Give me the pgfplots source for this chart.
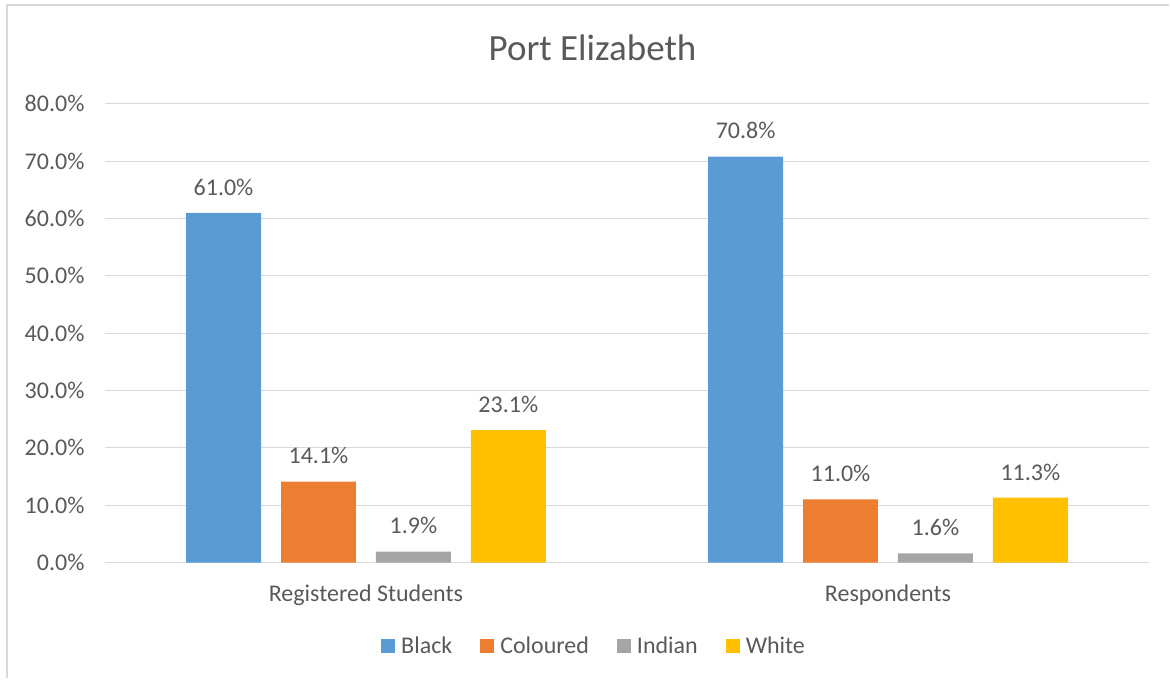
\documentclass[border=0pt]{standalone}
\usepackage{pgfplots}
\pgfplotsset{compat=1.18}
\usepackage{fontspec}
\setmainfont{Carlito}
\definecolor{cBlack}{HTML}{5B9BD5}
\definecolor{cColoured}{HTML}{ED7D31}
\definecolor{cIndian}{HTML}{A5A5A5}
\definecolor{cWhite}{HTML}{FFC000}
\definecolor{txt}{HTML}{595959}
\definecolor{grd}{HTML}{D9D9D9}
\begin{document}
\begin{tikzpicture}[x=1pt,y=1pt]
\path (0,0) rectangle (1170,679);
\draw[grd,line width=2pt] (7,0) -- (7,674) -- (1170,674);
\node[txt,font=\fontsize{37}{42}\selectfont] at (593,631) {Port Elizabeth};
\begin{axis}[
  at={(105pt,116pt)}, anchor=south west,
  scale only axis, width=1045pt, height=459pt,
  xmin=-0.5, xmax=1.5, ymin=0, ymax=80,
  ybar=20pt, bar width=75pt,
  xtick={0,1}, xticklabels={Registered Students,Respondents},
  ytick={0,10,...,80},
  yticklabel={\pgfmathprintnumber[fixed,fixed zerofill,precision=1]{\tick}\%},
  /pgf/number format/assume math mode=true,
  ymajorgrids, grid style={grd,line width=1pt},
  axis line style={draw=none},
  major tick length=0pt,
  tick label style={txt,font=\fontsize{24}{28}\selectfont},
  xticklabel style={yshift=-19pt},
  yticklabel style={xshift=-17pt},
  nodes near coords={\pgfmathprintnumber[fixed,fixed zerofill,precision=1]{\pgfplotspointmeta}\%},
  every node near coord/.append style={txt,font=\fontsize{24}{28}\selectfont,yshift=14pt},
  legend columns=-1,
  legend style={at={(0.4685,-0.181)},anchor=center,draw=none,fill=none,
    font=\fontsize{24}{28}\selectfont,text=txt,
    /tikz/every even column/.append style={column sep=26pt}},
  legend image code/.code={\fill[#1] (0pt,-7pt) rectangle (14pt,7pt); \path (18pt,0pt);},
  clip=false,
]
\draw[grd,line width=1.3pt] (axis cs:-0.5,0) -- (axis cs:1.5,0);
\addplot[fill=cBlack,draw=none] coordinates {(0,61.0) (1,70.8)};
\addplot[fill=cColoured,draw=none] coordinates {(0,14.1) (1,11.0)};
\addplot[fill=cIndian,draw=none] coordinates {(0,1.9) (1,1.6)};
\addplot[fill=cWhite,draw=none] coordinates {(0,23.1) (1,11.3)};
\legend{Black,Coloured,Indian,White}
\end{axis}
\end{tikzpicture}
\end{document}
